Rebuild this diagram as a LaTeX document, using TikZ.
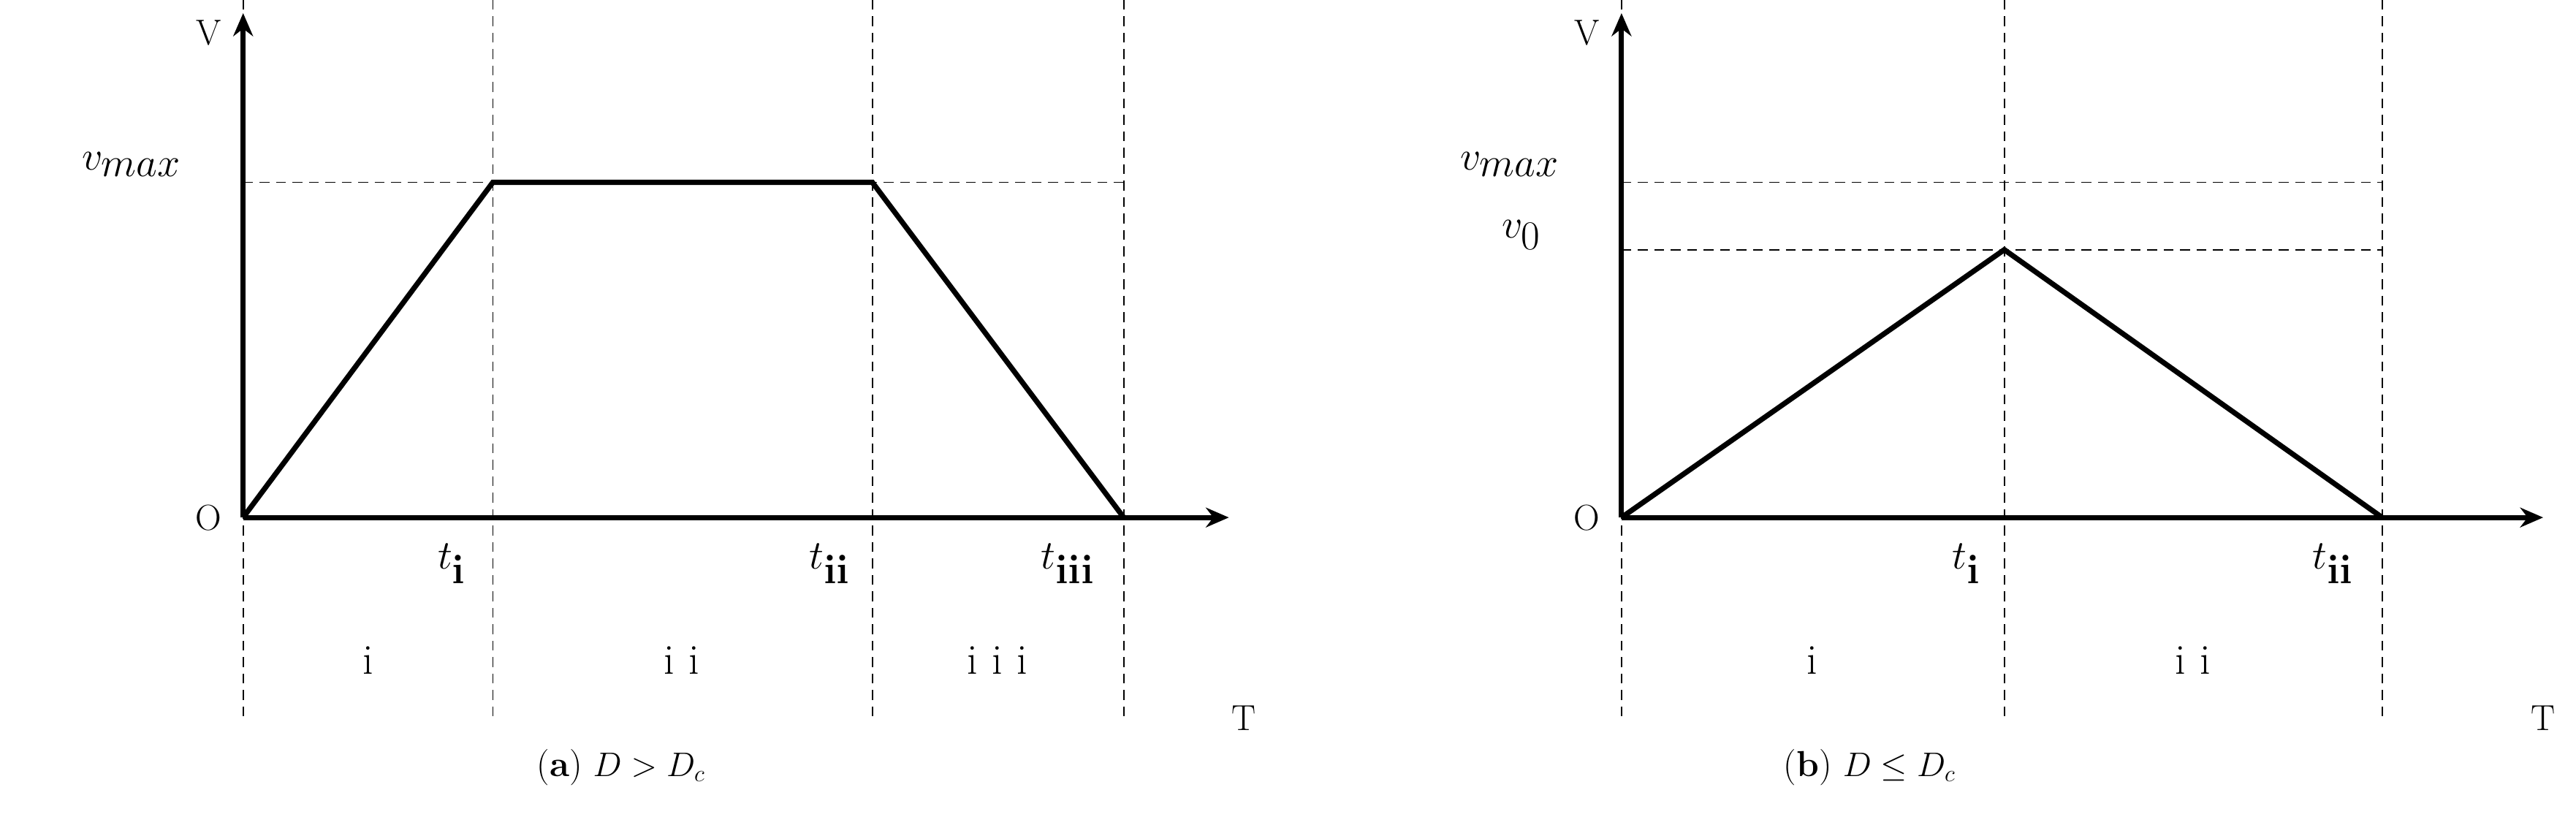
\documentclass[tikz,border=0pt]{standalone}
\usetikzlibrary{arrows.meta}
\begin{document}
\begin{tikzpicture}[x=1pt,y=-1pt,
  axis/.style={line width=3.2pt,-{Stealth[length=14pt,width=12pt]}},
  curve/.style={line width=3.2pt,line join=miter},
  guide/.style={line width=0.8pt,dash pattern=on 6pt off 4pt},
  big/.style={font=\fontsize{40}{44}\selectfont},
  small/.style={font=\fontsize{22}{26}\selectfont},
  roman/.style={font=\fontsize{26}{30}\selectfont},
  captext/.style={font=\fontsize{22}{26}\selectfont}]
\useasboundingbox (0,0) rectangle (1568,497);
% ---------- panel (a)
\coordinate (aO) at (148,315);
\coordinate (aY) at (148,8);
\coordinate (aX) at (748,315);
\coordinate (a1) at (300,111);
\coordinate (a2) at (531,111);
\coordinate (a3) at (684,315);
\foreach \x in {148,300,531,684} \draw[guide] (\x,0) -- (\x,437);
\draw[guide] (148,111) -- (684,111);
\draw[axis] (aO) -- (aY);
\draw[axis] (aO) -- (aX);
\draw[curve] (aO) -- (a1) -- (a2) -- (a3);
\node[small] (aV) at (127,20) {V};
\node[small] (aOl) at (127,315) {O};
\node[small] (aT) at (757,437) {T};
\node[big] (avm) at (80,100) {$v_{max}$};
\node[big] (at1) at (275,343) {$t_{\mathbf{i}}$};
\node[big] (at2) at (505,343) {$t_{\mathbf{ii}}$};
\node[big] (at3) at (650,343) {$t_{\mathbf{iii}}$};
\node[roman] (ar1) at (224,402) {i};
\node[roman] (ar2) at (415,402) {i\,\,i};
\node[roman] (ar3) at (607,402) {i\,\,i\,\,i};
\node[captext] (acap) at (378,467) {(\textbf{a}) $D>D_c$};
% ---------- panel (b)
\coordinate (bO) at (987,315);
\coordinate (bY) at (987,8);
\coordinate (bX) at (1548,315);
\coordinate (b1) at (1220,152);
\coordinate (b2) at (1450,315);
\foreach \x in {987,1220,1450} \draw[guide] (\x,0) -- (\x,437);
\draw[guide] (987,111) -- (1450,111);
\draw[guide] (987,152) -- (1450,152);
\draw[axis] (bO) -- (bY);
\draw[axis] (bO) -- (bX);
\draw[curve] (bO) -- (b1) -- (b2);
\node[small] (bV) at (966,20) {V};
\node[small] (bOl) at (966,315) {O};
\node[small] (bT) at (1548,437) {T};
\node[big] (bvm) at (919,100) {$v_{max}$};
\node[big] (bv0) at (926,143) {$v_{0}$};
\node[big] (bt1) at (1197,343) {$t_{\mathbf{i}}$};
\node[big] (bt2) at (1420,343) {$t_{\mathbf{ii}}$};
\node[roman] (br1) at (1103,402) {i};
\node[roman] (br2) at (1335,402) {i\,\,i};
\node[captext] (bcap) at (1138,467) {(\textbf{b}) $D\leq D_c$};
\end{tikzpicture}
\end{document}
